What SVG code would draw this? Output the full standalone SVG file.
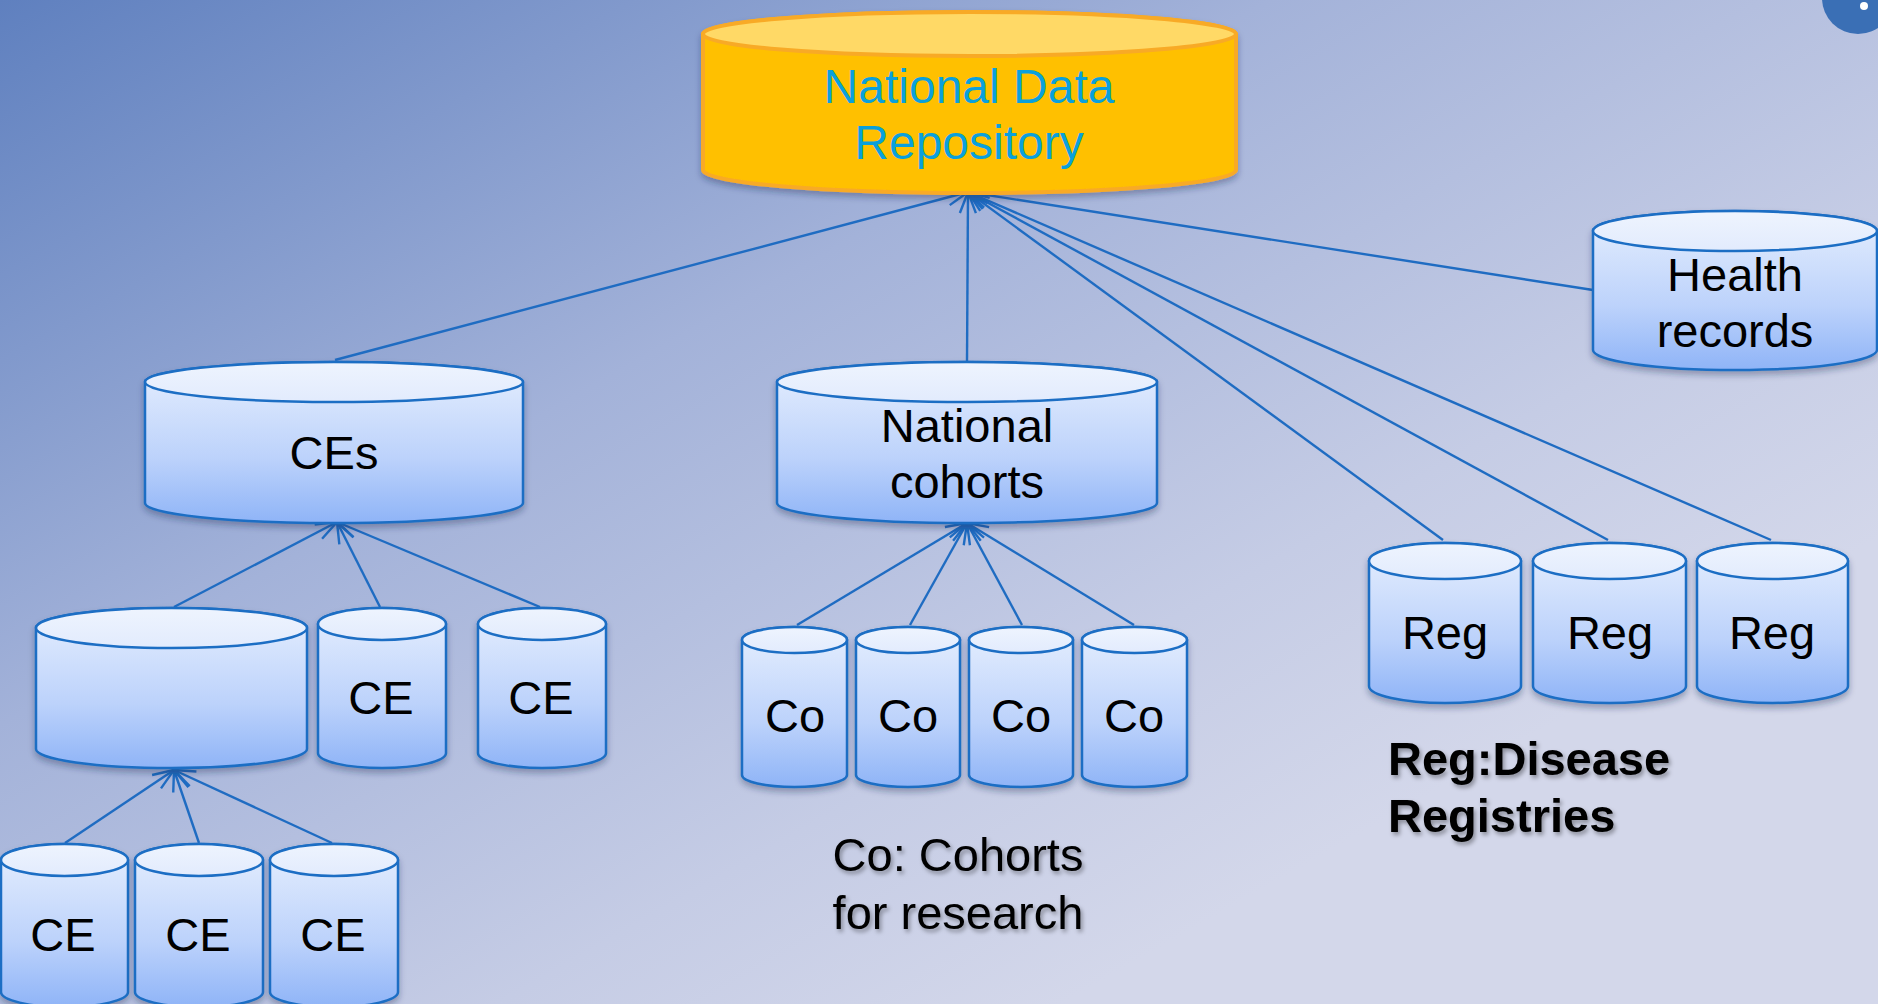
<svg xmlns="http://www.w3.org/2000/svg" width="1878" height="1004" viewBox="0 0 1878 1004">
<defs>
<linearGradient id="bg" x1="0" y1="0" x2="0.8" y2="0.75">
<stop offset="0" stop-color="#5F80BF"/>
<stop offset="0.45" stop-color="#A3B2D9"/>
<stop offset="0.8" stop-color="#C5CCE5"/>
<stop offset="1" stop-color="#D3D7EA"/>
</linearGradient>
<linearGradient id="body" x1="0" y1="0" x2="0" y2="1">
<stop offset="0" stop-color="#E6EFFE"/>
<stop offset="0.6" stop-color="#BCD2FB"/>
<stop offset="1" stop-color="#8FB4F7"/>
</linearGradient>
<linearGradient id="lid" x1="0" y1="0" x2="0" y2="1">
<stop offset="0" stop-color="#EEF4FE"/>
<stop offset="1" stop-color="#E2EBFD"/>
</linearGradient>
<filter id="sh" x="-10%" y="-10%" width="120%" height="130%">
<feDropShadow dx="0" dy="4" stdDeviation="3" flood-color="#1A2A50" flood-opacity="0.35"/>
</filter>
<filter id="tsh" x="-10%" y="-20%" width="120%" height="150%">
<feDropShadow dx="2" dy="3" stdDeviation="2" flood-color="#000" flood-opacity="0.35"/>
</filter>
<marker id="arr" markerUnits="userSpaceOnUse" markerWidth="26" markerHeight="26" viewBox="0 0 26 26" refX="23" refY="13" orient="auto">
<path d="M2,5 L23,13 L2,21" fill="none" stroke="#1F6CC2" stroke-width="2.4"/>
</marker>
<style>
.cyl{fill:url(#body);stroke:#1C6EC4;stroke-width:2.5}
.lid{fill:url(#lid);stroke:#1C6EC4;stroke-width:2.5}
.t{font-family:"Liberation Sans",Arial,sans-serif;font-size:47px;fill:#000;text-anchor:middle}
.b{font-family:"Liberation Sans",Arial,sans-serif;font-size:47px;fill:#000;font-weight:bold}
.c{fill:none;stroke:#1F6CC2;stroke-width:2.4;marker-end:url(#arr)}
.l{fill:none;stroke:#1F6CC2;stroke-width:2.4}
</style>
</defs>
<rect x="0" y="0" width="1878" height="1004" fill="url(#bg)"/>
<g id="icon">
<circle cx="1858" cy="-2" r="36" fill="#3A6FB5"/>
<circle cx="1864" cy="6" r="4" fill="#FFFFFF"/>
</g>

<g id="connectors">
<line class="c" x1="335" y1="360" x2="968" y2="192"/>
<line class="c" x1="967" y1="362" x2="968" y2="192"/>
<line class="c" x1="1593" y1="290" x2="968" y2="192"/>
<line class="c" x1="1443" y1="540" x2="968" y2="192"/>
<line class="c" x1="1608" y1="540" x2="968" y2="192"/>
<line class="c" x1="1771" y1="540" x2="968" y2="192"/>
<line class="c" x1="174" y1="607" x2="337" y2="522"/>
<line class="c" x1="380" y1="607" x2="337" y2="522"/>
<line class="c" x1="540" y1="607" x2="337" y2="522"/>
<line class="c" x1="797" y1="625" x2="967" y2="523"/>
<line class="c" x1="910" y1="625" x2="967" y2="523"/>
<line class="c" x1="1022" y1="625" x2="967" y2="523"/>
<line class="c" x1="1134" y1="625" x2="967" y2="523"/>
<line class="c" x1="65" y1="843" x2="174" y2="770"/>
<line class="c" x1="199" y1="843" x2="174" y2="770"/>
<line class="c" x1="332" y1="843" x2="174" y2="770"/>
</g>

<g id="ndr">
<path d="M703,34 L703,170 A266,23 0 0 0 1236,170 L1236,34 A266,22 0 0 0 703,34 Z" fill="#FFC000" stroke="#F8AA26" stroke-width="4" filter="url(#sh)"/>
<ellipse cx="969.5" cy="34" rx="266.5" ry="22" fill="#FFD966" stroke="#F8AA26" stroke-width="4"/>
<text x="969" y="103" font-family="Liberation Sans, Arial, sans-serif" font-size="48" fill="#0AA0DC" text-anchor="middle">National Data</text>
<text x="969" y="159" font-family="Liberation Sans, Arial, sans-serif" font-size="48" fill="#0AA0DC" text-anchor="middle">Repository</text>
</g>

<g id="health-records">
<path class="cyl" filter="url(#sh)" d="M1593,231 L1593,350 A142,20 0 0 0 1877,350 L1877,231 A142,20 0 0 0 1593,231 Z"/>
<ellipse class="lid" cx="1735" cy="231" rx="142" ry="20"/>
<text class="t" x="1735" y="291">Health</text>
<text class="t" x="1735" y="347">records</text>
</g>

<g id="ces">
<path class="cyl" filter="url(#sh)" d="M145,382 L145,503 A189,20 0 0 0 523,503 L523,382 A189,20 0 0 0 145,382 Z"/>
<ellipse class="lid" cx="334" cy="382" rx="189" ry="20"/>
<text class="t" x="334" y="469">CEs</text>
</g>

<g id="national-cohorts">
<path class="cyl" filter="url(#sh)" d="M777,382 L777,503 A190,20 0 0 0 1157,503 L1157,382 A190,20 0 0 0 777,382 Z"/>
<ellipse class="lid" cx="967" cy="382" rx="190" ry="20"/>
<text class="t" x="967" y="442">National</text>
<text class="t" x="967" y="498">cohorts</text>
</g>

<g id="ce-group">
<path class="cyl" filter="url(#sh)" d="M36,628 L36,749 A135.5,19 0 0 0 307,749 L307,628 A135.5,20 0 0 0 36,628 Z"/>
<ellipse class="lid" cx="171.5" cy="628" rx="135.5" ry="20"/>
</g>

<g id="ce-1">
<path class="cyl" filter="url(#sh)" d="M318,624 L318,753 A64,15 0 0 0 446,753 L446,624 A64,16 0 0 0 318,624 Z"/>
<ellipse class="lid" cx="382" cy="624" rx="64" ry="16"/>
<text class="t" x="381" y="714">CE</text>
</g>

<g id="ce-2">
<path class="cyl" filter="url(#sh)" d="M478,624 L478,753 A64,15 0 0 0 606,753 L606,624 A64,16 0 0 0 478,624 Z"/>
<ellipse class="lid" cx="542" cy="624" rx="64" ry="16"/>
<text class="t" x="541" y="714">CE</text>
</g>

<g id="ce-a">
<path class="cyl" filter="url(#sh)" d="M1,860 L1,992 A63.5,15 0 0 0 128,992 L128,860 A63.5,16 0 0 0 1,860 Z"/>
<ellipse class="lid" cx="64.5" cy="860" rx="63.5" ry="16"/>
<text class="t" x="63" y="951">CE</text>
</g>

<g id="ce-b">
<path class="cyl" filter="url(#sh)" d="M135,860 L135,992 A64,15 0 0 0 263,992 L263,860 A64,16 0 0 0 135,860 Z"/>
<ellipse class="lid" cx="199" cy="860" rx="64" ry="16"/>
<text class="t" x="198" y="951">CE</text>
</g>

<g id="ce-c">
<path class="cyl" filter="url(#sh)" d="M270,860 L270,992 A64,15 0 0 0 398,992 L398,860 A64,16 0 0 0 270,860 Z"/>
<ellipse class="lid" cx="334" cy="860" rx="64" ry="16"/>
<text class="t" x="333" y="951">CE</text>
</g>

<g id="co-1">
<path class="cyl" filter="url(#sh)" d="M742,640 L742,775 A52.5,12 0 0 0 847,775 L847,640 A52.5,13 0 0 0 742,640 Z"/>
<ellipse class="lid" cx="794.5" cy="640" rx="52.5" ry="13"/>
<text class="t" x="795" y="732">Co</text>
</g>
<g id="co-2">
<path class="cyl" filter="url(#sh)" d="M856,640 L856,775 A52,12 0 0 0 960,775 L960,640 A52,13 0 0 0 856,640 Z"/>
<ellipse class="lid" cx="908" cy="640" rx="52" ry="13"/>
<text class="t" x="908" y="732">Co</text>
</g>
<g id="co-3">
<path class="cyl" filter="url(#sh)" d="M969,640 L969,775 A52,12 0 0 0 1073,775 L1073,640 A52,13 0 0 0 969,640 Z"/>
<ellipse class="lid" cx="1021" cy="640" rx="52" ry="13"/>
<text class="t" x="1021" y="732">Co</text>
</g>
<g id="co-4">
<path class="cyl" filter="url(#sh)" d="M1082,640 L1082,775 A52.5,12 0 0 0 1187,775 L1187,640 A52.5,13 0 0 0 1082,640 Z"/>
<ellipse class="lid" cx="1134.5" cy="640" rx="52.5" ry="13"/>
<text class="t" x="1134" y="732">Co</text>
</g>

<g id="reg-1">
<path class="cyl" filter="url(#sh)" d="M1369,561 L1369,686 A76,17 0 0 0 1521,686 L1521,561 A76,18 0 0 0 1369,561 Z"/>
<ellipse class="lid" cx="1445" cy="561" rx="76" ry="18"/>
<text class="t" x="1445" y="649">Reg</text>
</g>
<g id="reg-2">
<path class="cyl" filter="url(#sh)" d="M1533,561 L1533,686 A76.5,17 0 0 0 1686,686 L1686,561 A76.5,18 0 0 0 1533,561 Z"/>
<ellipse class="lid" cx="1609.5" cy="561" rx="76.5" ry="18"/>
<text class="t" x="1610" y="649">Reg</text>
</g>
<g id="reg-3">
<path class="cyl" filter="url(#sh)" d="M1697,561 L1697,686 A75.5,17 0 0 0 1848,686 L1848,561 A75.5,18 0 0 0 1697,561 Z"/>
<ellipse class="lid" cx="1772.5" cy="561" rx="75.5" ry="18"/>
<text class="t" x="1772" y="649">Reg</text>
</g>

<g id="legend-co" filter="url(#tsh)">
<text class="t" x="958" y="871">Co: Cohorts</text>
<text class="t" x="958" y="929">for research</text>
</g>
<g id="legend-reg" filter="url(#tsh)">
<text class="b" x="1388" y="775">Reg:Disease</text>
<text class="b" x="1388" y="832">Registries</text>
</g>
</svg>
